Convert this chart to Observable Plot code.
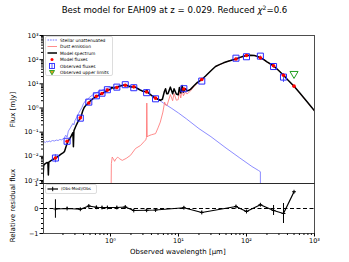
<!DOCTYPE html>
<html><head><meta charset="utf-8">
<script src="https://cdn.jsdelivr.net/npm/d3@7"></script>
<script src="https://cdn.jsdelivr.net/npm/@observablehq/plot@0.6"></script>
<style>
body{margin:0;background:#fff;}
#wrap{position:relative;width:349px;height:262px;font-family:"DejaVu Sans",sans-serif;overflow:hidden;background:#fff;}
#title{position:absolute;left:0;top:6px;width:349px;text-align:center;font-size:8.6px;line-height:1;color:#000;}
#title sup{font-size:6px;vertical-align:3px;line-height:0;}
.abs{position:absolute;left:0;top:0;}
.lab{position:absolute;font-size:7px;color:#000;white-space:nowrap;line-height:1;}
</style></head><body>
<div id="wrap"><div id="title">Best model for EAH09 at z = 0.029. Reduced <i>χ</i><sup>2</sup>=0.6</div></div>
<script>
// ---- Observed bands ----
const bandWl   = [0.155,0.23,0.36,0.48,0.62,0.75,0.9,1.24,1.65,2.2,3.4,4.6,12,22,70,100,160,250,350];
const obsFlux  = [0.0085,0.042,0.38,1.75,3.2,4.1,5.7,7.3,9.2,6.9,4.3,2.4,6.3,13,115,132,140,52,19];
const obsErr   = [0.0031,0.002,0.011,0.05,0.1,0.12,0.17,0.22,0.28,0.2,0.13,0.07,0.19,0.6,3.5,4,4.2,7.8,7.6];
const modelWl  = [0.155,0.23,0.36,0.48,0.62,0.75,0.9,1.24,1.65,2.2,3.4,4.6,12,22,70,100,160,250,350,500];
const modelFlux= [0.0085,0.042,0.39,1.6,3.05,3.95,5.5,7.0,8.7,7.5,4.6,2.55,6.1,15,106,148,119,56,22.8,8];
const ulWl     = [500];
const ulFlux   = [26];
const residWl  = [0.155,0.23,0.36,0.48,0.62,0.75,0.9,1.24,1.65,2.2,3.4,4.6,12,22,70,100,160,250,350,500];
const resid    = [-0.02,0.0,-0.03,0.10,0.05,0.04,0.04,0.04,0.06,-0.08,-0.07,-0.06,0.03,-0.16,0.08,-0.12,0.15,-0.08,-0.2,0.67];
const residErr = [0.37,0.04,0.03,0.03,0.03,0.03,0.03,0.03,0.03,0.03,0.03,0.03,0.03,0.05,0.03,0.03,0.03,0.2,0.4,0];

// ---- Model spectrum ----
const specWl = [0.100,0.102,0.104,0.110,0.116,0.120,0.122,0.124,0.135,0.145,0.155,0.170,0.185,0.200,0.210,0.220,0.235,0.250,0.265,0.280,0.285,0.290,0.310,0.330,0.350,0.370,0.390,0.410,0.440,0.470,0.500,0.550,0.600,0.650,0.700,0.750,0.800,0.900,1.000,1.050,1.100,1.200,1.300,1.450,1.600,1.750,1.850,2.000,2.200,2.330,2.500,2.700,3.000,3.300,3.420,3.550,4.000,4.500,5.000,5.400,5.800,6.200,6.450,6.700,7.000,7.600,8.200,8.600,9.300,9.900,10.300,10.800,11.300,11.800,12.700,13.300,14.000,15.000,17.000,19.000,22.000,25.000,30.000,35.000,40.000,46.000,55.000,62.000,70.000,80.000,90.000,100.00,115.00,130.00,145.00,160.00,180.00,200.00,250.00,300.00,350.00,400.00,500.00,600.00,700.00,800.00,900.00,1000.0];
const specFlux = [0.0043,0.0014,0.0042,0.0050,0.0055,0.0054,0.0017,0.0058,0.0068,0.0076,0.0085,0.0100,0.0120,0.0140,0.0155,0.0230,0.0400,0.0520,0.0700,0.0950,0.0250,0.1150,0.1800,0.2600,0.3400,0.4500,0.7500,1.05,1.35,1.55,1.90,2.40,2.85,3.20,3.55,3.95,4.40,5.30,6.00,7.20,6.50,7.00,7.60,8.40,8.90,8.50,7.90,7.40,7.40,7.30,6.40,5.60,4.90,4.70,5.60,4.40,3.30,2.65,2.30,2.10,2.30,4.80,6.30,3.90,3.90,7.30,3.90,6.20,3.80,3.50,7.00,4.20,8.50,4.50,6.30,5.20,5.30,5.90,8.50,11.5,15.0,21.0,35.0,52.0,62.0,74.0,88.0,97.0,106,124,138,148,152,150,137,120,100,81,56,35,22.8,15,8.0,4.4,2.6,1.65,1.1,0.76];

// ---- Stellar unattenuated ----
const starWl = [0.100,0.105,0.110,0.115,0.120,0.125,0.130,0.140,0.150,0.160,0.170,0.180,0.190,0.200,0.210,0.220,0.230,0.240,0.260,0.280,0.290,0.300,0.320,0.340,0.360,0.380,0.400,0.430,0.460,0.500,0.550,0.600,0.700,0.800,0.900,1.000,1.200,1.400,1.600,1.800,2.000,2.200,2.500,3.000,3.500,4.000,4.600,5.000,6.000,8.000,10.00,13.00,20.00,30.00,50.00,80.00,120.0,150.0,160.0,160.5];
const starFlux = [0.039,0.041,0.037,0.042,0.039,0.044,0.040,0.045,0.043,0.047,0.045,0.050,0.048,0.052,0.060,0.075,0.062,0.110,0.160,0.230,0.200,0.300,0.420,0.600,0.800,1.05,1.50,2.00,2.30,2.90,3.50,4.10,5.00,5.80,6.50,7.00,7.80,8.60,9.10,8.70,8.00,7.50,6.50,5.20,4.30,3.50,2.70,2.30,1.60,0.95,0.62,0.36,0.14,0.065,0.022,0.0085,0.0038,0.0026,0.0023,0.000001];

// ---- Dust emission ----
const dustWl = [1.000,1.030,1.060,1.100,1.150,1.200,1.280,1.350,1.490,1.700,1.970,2.330,2.760,3.100,3.300,3.380,3.420,3.470,3.600,4.000,4.600,5.000,5.400,5.900,6.250,6.500,6.800,7.600,8.200,8.600,9.300,9.900,10.300,10.800,11.300,11.800,12.700,13.300,14.000,15.000,17.000,19.000,22.000,25.000,30.000,35.000,40.000,50.000,70.000,100.00,130.00,160.00,200.00,300.00,500.00,1000.0];
const dustFlux = [0.000001,0.0050,0.0093,0.0080,0.0062,0.0078,0.0093,0.0080,0.0068,0.0082,0.0110,0.0210,0.0280,0.0400,0.0480,0.0600,1.600,0.0630,0.0700,0.0780,0.0870,0.1500,0.2600,0.6800,1.75,1.30,1.30,3.60,2.00,4.00,2.10,2.20,4.80,2.60,5.80,3.20,4.60,3.80,4.20,5.10,7.80,11.0,14.6,20.6,34.5,51.5,61.5,81,105.5,147.5,149.5,119.5,80.5,34.8,7.95,0.755];

// ---- axis ticks ----
const xMajor = [1,10,100,1000];
const yMajor = [0.001,0.01,0.1,1,10,100,1000];
const rMajor = [-1,0,1];

const zip = (a, b) => a.map((v, i) => ({x: v, y: b[i]}));
const obs = bandWl.map((w, i) => ({x: w, y: obsFlux[i], e: obsErr[i]}));
const mod = zip(modelWl, modelFlux);
const ul = zip(ulWl, ulFlux);
const spec = zip(specWl, specFlux);
const star = zip(starWl, starFlux);
const dust = zip(dustWl, dustFlux);
const res = residWl.map((w, i) => ({x: w, y: resid[i], e: residErr[i]}));

const supMap = {"-":"⁻","0":"⁰","1":"¹","2":"²","3":"³","4":"⁴","5":"⁵"};
const fmt = d => "10" + String(Math.round(Math.log10(d))).split("").map(c => supMap[c]).join("");
const minors = (decades) => decades.flatMap(p => [2,3,4,5,6,7,8,9].map(k => k * p));
const xMinor = minors([0.1,1,10,100]).filter(v => v > 0.1035);
const yMinor = minors([0.0001,0.001,0.01,0.1,1,10,100]).filter(v => v > 7.5e-4 && v < 1000);
const rMinor = [-0.8,-0.6,-0.4,-0.2,0.2,0.4,0.6,0.8];

const xDomain = [0.1035, 1000];
const baseStyle = {background: "transparent", overflow: "visible", fontFamily: "DejaVu Sans", fontSize: "6.5px", color: "#000"};

const plusSym = {draw(ctx, size) { const r = Math.sqrt(size) / 2; ctx.moveTo(-r, 0); ctx.lineTo(r, 0); ctx.moveTo(0, -r); ctx.lineTo(0, r); }};

const topPlot = Plot.plot({
  width: 349, height: 184, marginTop: 35, marginBottom: 1, marginLeft: 43, marginRight: 35,
  style: baseStyle,
  x: {type: "log", domain: xDomain, axis: null},
  y: {type: "log", domain: [7.5e-4, 1000]},
  marks: [
    Plot.axisY({ticks: yMajor, tickFormat: fmt, tickSize: 3.5, tickPadding: 1.5, label: null, stroke: "#000"}),
    Plot.axisY({ticks: yMinor, tickSize: 2, text: null, label: null, stroke: "#000"}),
    Plot.line(star, {x: "x", y: "y", stroke: "#6e6eff", strokeWidth: 0.8, clip: true}),
    Plot.line(dust, {x: "x", y: "y", stroke: "#ff6f6f", strokeWidth: 0.8, clip: true}),
    Plot.line(spec, {x: "x", y: "y", stroke: "#000", strokeWidth: 1.5, clip: true}),
    Plot.ruleX(obs, {x: "x", y1: d => d.y - d.e, y2: d => d.y + d.e, stroke: "#2a2aff", strokeWidth: 0.8}),
    Plot.dot(obs, {x: "x", y: "y", symbol: "square", r: 3.4, stroke: "#2a2aff", fill: "none", strokeWidth: 1}),
    Plot.dot(mod, {x: "x", y: "y", r: 1.8, fill: "#ff0000", stroke: "none"}),
    Plot.dot(ul, {x: "x", y: "y", symbol: "triangle", rotate: 180, r: 3, stroke: "#1f9e1f", fill: "none", strokeWidth: 1}),
    Plot.frame({stroke: "#222", strokeWidth: 0.8})
  ]
});

const botPlot = Plot.plot({
  width: 349, height: 79, marginTop: 0, marginBottom: 29, marginLeft: 43, marginRight: 35,
  style: baseStyle,
  x: {type: "log", domain: xDomain},
  y: {domain: [-1, 1]},
  marks: [
    Plot.axisX({ticks: xMajor, tickFormat: fmt, tickSize: 3.5, tickPadding: 1.5, label: null, stroke: "#000"}),
    Plot.axisX({ticks: xMinor, tickSize: 2, text: null, label: null, stroke: "#000"}),
    Plot.axisY({ticks: rMajor, tickFormat: d => d < 0 ? "−1" : String(d), tickSize: 3.5, tickPadding: 1.5, label: null, stroke: "#000"}),
    Plot.axisY({ticks: rMinor, tickSize: 2, text: null, label: null, stroke: "#000"}),
    Plot.ruleY([0], {stroke: "#000", strokeWidth: 1.1, strokeDasharray: "4,2.5"}),
    Plot.ruleX(res, {x: "x", y1: d => d.y - d.e, y2: d => d.y + d.e, stroke: "#000", strokeWidth: 1}),
    Plot.line(res, {x: "x", y: "y", stroke: "#000", strokeWidth: 1.2}),
    Plot.dot(res, {x: "x", y: "y", symbol: plusSym, r: 2.2, stroke: "#000", fill: "none", strokeWidth: 1}),
    Plot.frame({stroke: "#222", strokeWidth: 0.8})
  ]
});

const wrap = document.getElementById("wrap");
topPlot.classList.add("abs"); topPlot.style.top = "0px";
botPlot.classList.add("abs"); botPlot.style.top = "183px";
wrap.appendChild(topPlot);
wrap.appendChild(botPlot);

// axis titles
function addLabel(text, cx, cy, rot) {
  const d = document.createElement("div");
  d.className = "lab";
  d.textContent = text;
  wrap.appendChild(d);
  const w = d.offsetWidth, h = d.offsetHeight;
  d.style.left = (cx - w / 2) + "px";
  d.style.top = (cy - h / 2) + "px";
  if (rot) d.style.transform = "rotate(-90deg)";
}
addLabel("Flux [mJy]", 13, 109, true);
addLabel("Relative residual flux", 13, 205, true);
addLabel("Observed wavelength [µm]", 178, 252, false);

// legends (decoration)
const svg = d3.select(wrap).append("svg").attr("class", "abs").attr("width", 349).attr("height", 262)
  .style("pointer-events", "none").style("font-family", "DejaVu Sans");
const lg = svg.append("g");
lg.append("rect").attr("x", 45.5).attr("y", 36.5).attr("width", 67).attr("height", 39).attr("rx", 1.5)
  .attr("fill", "#fff").attr("fill-opacity", 0.85).attr("stroke", "#cfcfcf").attr("stroke-width", 0.7);
const rows = [
  {t: "Stellar unattenuated", kind: "line", c: "#4b4bff", w: 0.8, dash: "1.6,1"},
  {t: "Dust emission", kind: "line", c: "#ff6f6f", w: 0.8},
  {t: "Model spectrum", kind: "line", c: "#000", w: 1.5},
  {t: "Model fluxes", kind: "dot"},
  {t: "Observed fluxes", kind: "sq"},
  {t: "Observed upper limits", kind: "tri"}
];
rows.forEach((r, i) => {
  const y = 40 + i * 6.5;
  if (r.kind === "line") lg.append("line").attr("x1", 47.5).attr("x2", 57).attr("y1", y).attr("y2", y)
    .attr("stroke", r.c).attr("stroke-width", r.w).attr("stroke-dasharray", r.dash || null);
  if (r.kind === "dot") lg.append("circle").attr("cx", 52).attr("cy", y).attr("r", 1.5).attr("fill", "#f00");
  if (r.kind === "sq") { lg.append("rect").attr("x", 49.5).attr("y", y - 2.5).attr("width", 5).attr("height", 5).attr("fill", "none").attr("stroke", "#2a2aff").attr("stroke-width", 0.9);
    lg.append("line").attr("x1", 52).attr("x2", 52).attr("y1", y - 2.5).attr("y2", y + 2.5).attr("stroke", "#2a2aff").attr("stroke-width", 0.8); }
  if (r.kind === "tri") lg.append("path").attr("d", `M49.5,${y - 2}L54.5,${y - 2}L52,${y + 2.3}Z`).attr("fill", "#e0a020").attr("stroke", "#1f9e1f").attr("stroke-width", 0.9);
  lg.append("text").attr("x", 60).attr("y", y).attr("dy", "0.35em").attr("font-size", 4.4).attr("fill", "#000").text(r.t);
});
const lr = svg.append("g");
lr.append("rect").attr("x", 45.5).attr("y", 184.5).attr("width", 51).attr("height", 9).attr("rx", 1.5)
  .attr("fill", "#fff").attr("fill-opacity", 0.85).attr("stroke", "#cfcfcf").attr("stroke-width", 0.7);
lr.append("line").attr("x1", 47.5).attr("x2", 58).attr("y1", 189).attr("y2", 189).attr("stroke", "#000").attr("stroke-width", 1.2);
lr.append("line").attr("x1", 52.7).attr("x2", 52.7).attr("y1", 186.8).attr("y2", 191.2).attr("stroke", "#000").attr("stroke-width", 1);
lr.append("text").attr("x", 61).attr("y", 189).attr("dy", "0.35em").attr("font-size", 4).attr("fill", "#000").text("(Obs-Mod)/Obs");
</script>
</body></html>
